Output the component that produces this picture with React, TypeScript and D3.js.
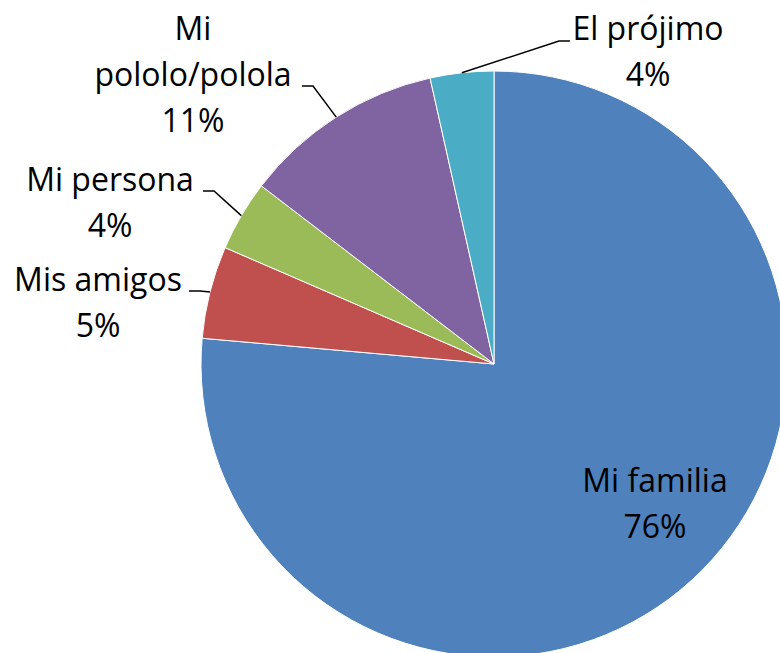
import * as d3 from "d3";
import { useEffect } from "react";

// datos del gráfico
const categories = ["Mi familia", "Mis amigos", "Mi persona", "Mi pololo/polola", "El prójimo"];
const values = [76.4, 5.1, 3.9, 11.1, 3.5];
const colors = ["#4F81BD", "#C0504D", "#9BBB59", "#8064A2", "#4BACC6"];

// líneas de texto de cada etiqueta (el nombre se corta como en el original)
const labelNames = [["Mi familia"], ["Mis amigos"], ["Mi persona"], ["Mi", "pololo/polola"], ["El prójimo"]];

const W = 780;
const H = 653;

export default function App() {
  useEffect(() => {
    document.body.style.margin = "0";
  }, []);

  const cx = 494;
  const cy = 364;
  const r = 293;
  const lineH = 46;

  // posición de las etiquetas respecto al centro: texto (tx, ty primera línea) y punto final de la guía (ex, ey)
  const layout = [
    { tx: 161, ty: 128, inside: true, ex: 0, ey: 0, side: 0 },
    { tx: -396, ty: -73, inside: false, ex: -305, ey: -73, side: 1 },
    { tx: -384, ty: -173, inside: false, ex: -291, ey: -173, side: 1 },
    { tx: -301, ty: -324, inside: false, ex: -192, ey: -278, side: 1 },
    { tx: 154, ty: -324, inside: false, ex: 76, ey: -323, side: -1 },
  ];

  const total = d3.sum(values);
  const pie = d3
    .pie<number>()
    .sort(null)
    .value((d) => d);
  const arcs = pie(values);
  const arc = d3.arc<d3.PieArcDatum<number>>().innerRadius(0).outerRadius(r);
  const edge = d3.arc<d3.PieArcDatum<number>>().innerRadius(r).outerRadius(r);
  const fmt = d3.format(".0%");

  return (
    <svg width={W} height={H} style={{ display: "block", background: "#fff" }}>
      <g transform={`translate(${cx},${cy})`}>
        {arcs.map((a, i) => (
          <path key={i} d={arc(a) ?? ""} fill={colors[i]} stroke="#fff" strokeWidth={1} />
        ))}
        {arcs.map((a, i) => {
          const l = layout[i];
          if (l.inside) return null;
          const [sx, sy] = edge.centroid(a);
          const pts: [number, number][] = [
            [sx, sy],
            [l.ex + 11 * l.side, l.ey],
            [l.ex, l.ey],
          ];
          return (
            <path
              key={"l" + i}
              d={d3.line()(pts) ?? ""}
              fill="none"
              stroke="#000"
              strokeWidth={1.5}
            />
          );
        })}
        {arcs.map((a, i) => {
          const l = layout[i];
          const lines = [...labelNames[i], fmt(values[i] / total)];
          return (
            <text
              key={"t" + i}
              textAnchor="middle"
              fontFamily="'Open Sans', sans-serif"
              fontSize={32}
              fill="#000"
            >
              {lines.map((s, k) => (
                <tspan key={k} x={l.tx} y={l.ty + k * lineH}>
                  {s}
                </tspan>
              ))}
            </text>
          );
        })}
      </g>
    </svg>
  );
}
